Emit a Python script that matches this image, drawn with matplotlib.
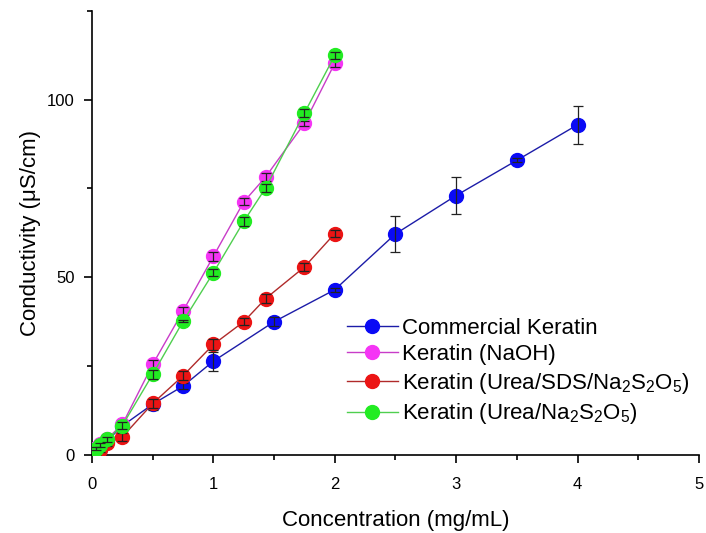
import matplotlib
matplotlib.use("Agg")
import matplotlib.pyplot as plt
from matplotlib.ticker import MultipleLocator

plt.rcParams['font.family'] = ['Liberation Sans', 'DejaVu Sans']
plt.rcParams['mathtext.fontset'] = 'custom'
plt.rcParams['mathtext.rm'] = 'Liberation Sans'
plt.rcParams['mathtext.it'] = 'Liberation Sans'

# concentration (mg/mL) and conductivity (uS/cm) per extraction method
conc_commercial = [0.03125, 0.0625, 0.125, 0.25, 0.5, 0.75, 1.0, 1.5, 2.0, 2.5, 3.0, 3.5, 4.0]
cond_commercial = [1.0, 2.0, 4.0, 8.2, 14.3, 19.4, 26.4, 37.5, 46.5, 62.2, 73.0, 82.9, 92.9]
err_commercial = [0.5, 0.5, 0.8, 1.0, 1.5, 0.8, 2.7, 1.2, 0.6, 5.0, 5.3, 0.6, 5.4]

conc_naoh = [0.03125, 0.0625, 0.125, 0.25, 0.5, 0.75, 1.0, 1.25, 1.43, 1.75, 2.0]
cond_naoh = [2.0, 3.0, 4.6, 8.6, 25.5, 40.5, 55.9, 71.2, 78.2, 93.3, 110.2]
err_naoh = [0.5, 0.6, 0.8, 1.0, 1.2, 1.2, 1.2, 1.0, 1.2, 0.8, 1.0]

conc_sds = [0.03125, 0.0625, 0.125, 0.25, 0.5, 0.75, 1.0, 1.25, 1.43, 1.75, 2.0]
cond_sds = [0.5, 1.5, 3.3, 5.1, 14.5, 22.3, 31.1, 37.5, 44.0, 52.9, 62.3]
err_sds = [0.5, 0.6, 0.8, 1.2, 1.2, 1.2, 1.5, 1.0, 1.2, 1.0, 1.0]

conc_urea = [0.03125, 0.0625, 0.125, 0.25, 0.5, 0.75, 1.0, 1.25, 1.43, 1.75, 2.0]
cond_urea = [1.8, 2.8, 4.4, 8.3, 22.7, 37.6, 51.3, 65.7, 75.1, 96.2, 112.4]
err_urea = [0.5, 0.6, 0.8, 1.0, 1.2, 0.3, 1.0, 1.2, 1.0, 1.0, 1.0]

labels = ["Commercial Keratin",
          "Keratin (NaOH)",
          r"Keratin (Urea/SDS/Na$_2$S$_2$O$_5$)",
          r"Keratin (Urea/Na$_2$S$_2$O$_5$)"]

series = [
    (conc_commercial, cond_commercial, err_commercial, '#1c1ca8', '#0a0af5'),
    (conc_naoh, cond_naoh, err_naoh, '#c83cc8', '#f535f5'),
    (conc_sds, cond_sds, err_sds, '#b02a2a', '#ec1414'),
    (conc_urea, cond_urea, err_urea, '#4fcf4f', '#22ec22'),
]

fig = plt.figure(figsize=(7.06, 5.33), dpi=100)
ax = fig.add_axes([0.1303, 0.1463, 0.8597, 0.8337])

z = 2
for (x, y, e, lc, mc), lab in zip(series, labels):
    ax.plot(x, y, '-o', color=lc, lw=1.0, ms=10, mfc=mc, mec=mc,
            label=lab, zorder=z)
    ax.errorbar(x, y, yerr=e, fmt='none', ecolor='#222222', elinewidth=0.9,
                capsize=3.3, capthick=0.9, zorder=z + 1)
    z += 2

ax.set_xlim(0, 5)
ax.set_ylim(0, 125)
ax.xaxis.set_major_locator(MultipleLocator(1))
ax.xaxis.set_minor_locator(MultipleLocator(0.5))
ax.yaxis.set_major_locator(MultipleLocator(50))
ax.yaxis.set_minor_locator(MultipleLocator(25))

for s in ['top', 'right']:
    ax.spines[s].set_visible(False)
for s in ['left', 'bottom']:
    ax.spines[s].set_linewidth(1.2)

ax.tick_params(which='major', direction='out', length=6, width=1.2,
               labelsize=12)
ax.tick_params(axis='x', which='major', pad=10)
ax.tick_params(axis='y', which='major', pad=6.5)
ax.tick_params(which='minor', direction='out', length=3.5, width=1.2)

ax.set_xlabel("Concentration (mg/mL)", fontsize=16, labelpad=13)
ax.set_ylabel("Conductivity (μS/cm)", fontsize=16, labelpad=4)

ax.legend(loc='upper left', bbox_to_anchor=(0.42, 0.309), frameon=False,
          fontsize=16, handlelength=2.3, handletextpad=0.2,
          borderpad=0, borderaxespad=0, labelspacing=0.25)

fig.savefig("out.png", dpi=100)
